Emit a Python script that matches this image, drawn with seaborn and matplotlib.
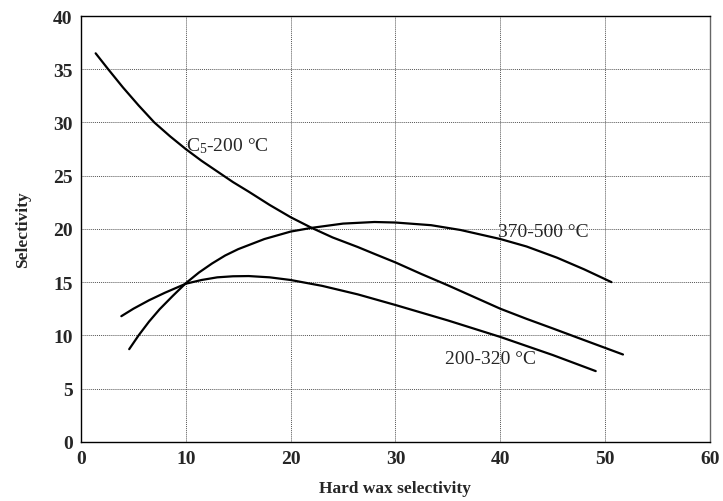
import numpy as np
import pandas as pd
import matplotlib
matplotlib.use("Agg")
import matplotlib.pyplot as plt
import seaborn as sns

# ── Data ─────────────────────────────────────────────────────────────────────
c5_x = [1.4, 2.6, 4.0, 5.5, 7.0, 8.5, 10.0, 11.5, 13.0, 14.5, 16.0, 18.0, 20.0,
        22.0, 24.0, 26.4, 28.0, 30.0, 32.5, 35.0, 37.5, 40.0, 42.5, 45.0, 48.0,
        51.7]
c5_y = [36.5, 35.0, 33.3, 31.6, 30.0, 28.7, 27.5, 26.4, 25.4, 24.4, 23.5, 22.25,
        21.1, 20.1, 19.2, 18.3, 17.65, 16.85, 15.75, 14.7, 13.6, 12.5, 11.55,
        10.65, 9.55, 8.2]

hw_x = [4.6, 5.5, 6.5, 7.5, 8.75, 10.0, 11.25, 12.5, 13.75, 15.0, 17.5, 20.0,
        22.0, 25.0, 28.0, 30.0, 33.4, 36.2, 40.0, 42.5, 45.4, 48.0, 50.6]
hw_y = [8.7, 10.0, 11.3, 12.45, 13.7, 14.9, 15.9, 16.75, 17.5, 18.1, 19.05,
        19.75, 20.1, 20.5, 20.65, 20.6, 20.35, 19.9, 19.05, 18.35, 17.3, 16.2,
        15.0]

md_x = [3.85, 5.0, 6.5, 8.0, 10.0, 11.5, 13.0, 14.5, 16.0, 18.0, 20.0, 23.0,
        26.4, 30.0, 35.0, 40.0, 45.0, 49.1]
md_y = [11.8, 12.5, 13.3, 14.0, 14.85, 15.2, 15.45, 15.55, 15.57, 15.45, 15.2,
        14.65, 13.85, 12.85, 11.4, 9.85, 8.15, 6.64]

x_ticks = [0, 10, 20, 30, 40, 50, 60]
y_ticks = [0, 5, 10, 15, 20, 25, 30, 35, 40]

df = pd.concat([
    pd.DataFrame({"x": c5_x, "y": c5_y, "cut": "C5-200"}),
    pd.DataFrame({"x": hw_x, "y": hw_y, "cut": "370-500"}),
    pd.DataFrame({"x": md_x, "y": md_y, "cut": "200-320"}),
])

# ── Style ────────────────────────────────────────────────────────────────────
sns.set_theme(style="white")
plt.rcParams["font.family"] = ["Liberation Serif", "DejaVu Serif"]
plt.rcParams["mathtext.fontset"] = "custom"
plt.rcParams["mathtext.rm"] = "Liberation Serif"
plt.rcParams["mathtext.it"] = "Liberation Serif"

fig = plt.figure(figsize=(7.23, 5.02), dpi=100)
ax = fig.add_axes([0.112, 0.118, 0.870, 0.848])

sns.lineplot(data=df, x="x", y="y", units="cut", estimator=None, sort=False,
             color="black", linewidth=1.6, ax=ax, legend=False)

ax.set_xlim(0, 60)
ax.set_ylim(0, 40)
ax.set_xticks(x_ticks)
ax.set_yticks(y_ticks)
ax.tick_params(axis="both", length=0, pad=6, labelsize=14)
for lab in ax.get_xticklabels() + ax.get_yticklabels():
    lab.set_fontweight("bold")

ax.grid(True, color="#555555", linestyle=(0, (1, 1)), linewidth=0.7)
for side in ["left", "bottom", "top", "right"]:
    ax.spines[side].set_color("black")
    ax.spines[side].set_linewidth(1.0)
ax.spines["right"].set_color("#666666")

ax.set_xlabel("Hard wax selectivity", fontsize=12.5, fontweight="bold", labelpad=9)
ax.set_ylabel("Selectivity", fontsize=12.5, fontweight="bold", labelpad=16)

# curve labels
ax.text(10.0, 27.9, "C$_5$-200 °C", fontsize=14, va="center", ha="left")
ax.text(39.8, 19.8, "370-500 °C", fontsize=14, va="center", ha="left")
ax.text(34.7, 7.8, "200-320 °C", fontsize=14, va="center", ha="left")

fig.savefig("out.png", dpi=100)
